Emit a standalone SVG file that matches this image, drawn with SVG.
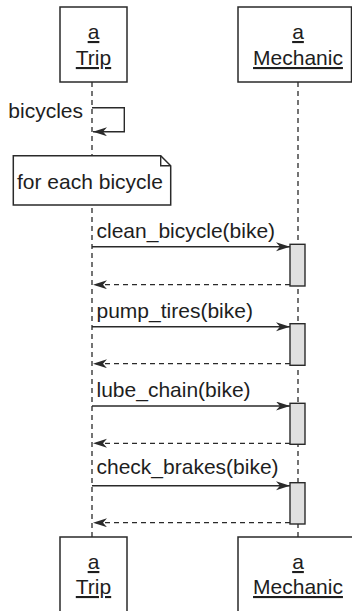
<svg xmlns="http://www.w3.org/2000/svg" width="352" height="611" viewBox="0 0 352 611">
<style>
.box{fill:#fff;stroke:#2a2a2a;stroke-width:1.5}
.act{fill:#e0e0e0;stroke:#2a2a2a;stroke-width:1.4}
.life{stroke:#2a2a2a;stroke-width:1.3;stroke-dasharray:5 4;fill:none}
.msg{stroke:#2a2a2a;stroke-width:1.4;fill:none}
.ret{stroke:#2a2a2a;stroke-width:1.3;fill:none;stroke-dasharray:5 4}
text{font-family:"Liberation Sans",Arial,sans-serif;font-size:21px;fill:#1e1e1e}
.c{text-anchor:middle;text-decoration:underline}
</style>
<defs>
<marker id="ah" markerUnits="userSpaceOnUse" markerWidth="15" markerHeight="10" refX="14" refY="4.5" orient="auto">
<path d="M0,0 L14,4.5 L0,9 L4,4.5 z" fill="#2a2a2a"/>
</marker>
</defs>
<g id="lifelines">
<line class="life" x1="92" y1="82" x2="92" y2="537"/>
<line class="life" x1="298" y1="82" x2="298" y2="537"/>
</g>
<g id="trip-top">
<rect class="box" x="60" y="7" width="67" height="75"/>
<text class="c" x="93.5" y="39">a</text>
<text class="c" x="93.5" y="65">Trip</text>
</g>
<g id="mechanic-top">
<rect class="box" x="238" y="7" width="113.5" height="75"/>
<text class="c" x="298" y="39">a</text>
<text class="c" x="298" y="65">Mechanic</text>
</g>
<g id="note">
<path class="box" d="M13.3,155.7 H160.7 L170.7,165.7 V205 H13.3 Z"/>
<path class="msg" d="M160.7,155.7 V165.7 H170.7"/>
<text x="17" y="188.5">for each bicycle</text>
</g>
<g id="activations">
<rect class="act" x="290" y="244.3" width="15" height="41.7"/>
<rect class="act" x="290" y="323.7" width="15" height="41.6"/>
<rect class="act" x="290" y="403.3" width="15" height="41"/>
<rect class="act" x="290" y="482.7" width="15" height="41.3"/>
</g>
<g id="connectors">
<path class="msg" d="M92,107.7 H124.3 V131.7 H93" marker-end="url(#ah)"/>
<line class="msg" x1="92" y1="246.7" x2="290" y2="246.7" marker-end="url(#ah)"/>
<line class="ret" x1="290" y1="284.7" x2="93" y2="284.7" marker-end="url(#ah)"/>
<line class="msg" x1="92" y1="326.7" x2="290" y2="326.7" marker-end="url(#ah)"/>
<line class="ret" x1="290" y1="363.7" x2="93" y2="363.7" marker-end="url(#ah)"/>
<line class="msg" x1="92" y1="406" x2="290" y2="406" marker-end="url(#ah)"/>
<line class="ret" x1="290" y1="443.3" x2="93" y2="443.3" marker-end="url(#ah)"/>
<line class="msg" x1="92" y1="485.7" x2="290" y2="485.7" marker-end="url(#ah)"/>
<line class="ret" x1="290" y1="522.7" x2="93" y2="522.7" marker-end="url(#ah)"/>
</g>
<g id="labels">
<text x="8.3" y="118.3">bicycles</text>
<text x="96.5" y="238.3">clean_bicycle(bike)</text>
<text x="96.5" y="318.3">pump_tires(bike)</text>
<text x="96.5" y="397">lube_chain(bike)</text>
<text x="96.5" y="474">check_brakes(bike)</text>
</g>
<g id="trip-bottom">
<rect class="box" x="60" y="537" width="67" height="80"/>
<text class="c" x="93.5" y="569">a</text>
<text class="c" x="93.5" y="594">Trip</text>
</g>
<g id="mechanic-bottom">
<rect class="box" x="238" y="537" width="120" height="80"/>
<text class="c" x="298" y="569">a</text>
<text class="c" x="298" y="594">Mechanic</text>
</g>
</svg>
